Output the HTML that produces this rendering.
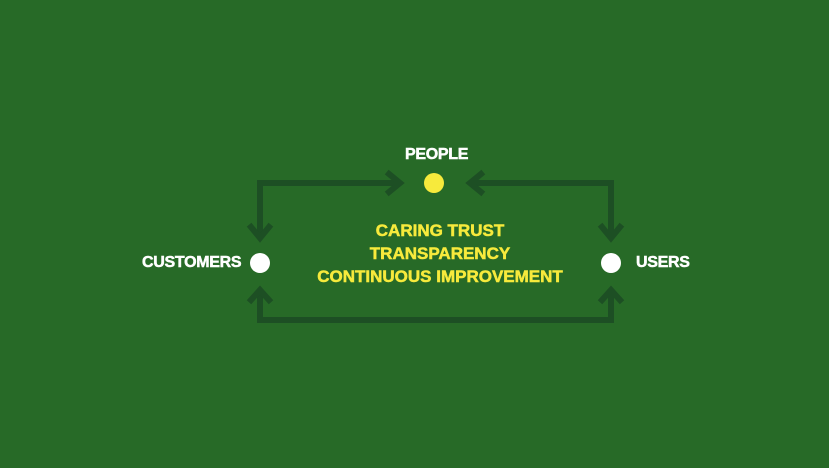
<!DOCTYPE html>
<html><head><style>
html,body{margin:0;padding:0}
body{width:829px;height:468px;background:#276a27;position:relative;overflow:hidden;font-family:"Liberation Sans",sans-serif;font-weight:bold}
.t{position:absolute;font-size:16px;color:#fff;white-space:nowrap;letter-spacing:-0.3px;-webkit-text-stroke:0.5px #fff}
.c{position:absolute;left:240px;width:400px;text-align:center;color:#f7ea3c;font-size:17px;white-space:nowrap;-webkit-text-stroke:0.5px #f7ea3c}
</style></head><body>
<svg width="829" height="468" style="position:absolute;left:0;top:0">
<g stroke="#1d4f24" stroke-width="6" fill="none" stroke-linecap="square">
<polyline points="398,183 260,183 260,236"/>
<polyline points="472,183 611,183 611,236"/>
<polyline points="260,292 260,320 611,320 611,292"/>
<polyline points="389,174 400,183 389,192"/>
<polyline points="481,174 470,183 481,192"/>
<polyline points="251,227 260,238 269,227"/>
<polyline points="602,227 611,238 620,227"/>
<polyline points="251,300 260,290 269,300"/>
<polyline points="602,300 611,290 620,300"/>
</g>
<circle cx="434" cy="183" r="10" fill="#f7ea3c"/>
<circle cx="260" cy="263" r="10" fill="#fff"/>
<circle cx="611" cy="263" r="10" fill="#fff"/>
</svg>
<div class="t" style="left:405px;top:146px">PEOPLE</div>
<div class="t" style="left:142px;top:254px">CUSTOMERS</div>
<div class="t" style="left:636px;top:254px">USERS</div>
<div class="c" style="top:221px">CARING TRUST</div>
<div class="c" style="top:244px">TRANSPARENCY</div>
<div class="c" style="top:267px">CONTINUOUS IMPROVEMENT</div>
</body></html>
